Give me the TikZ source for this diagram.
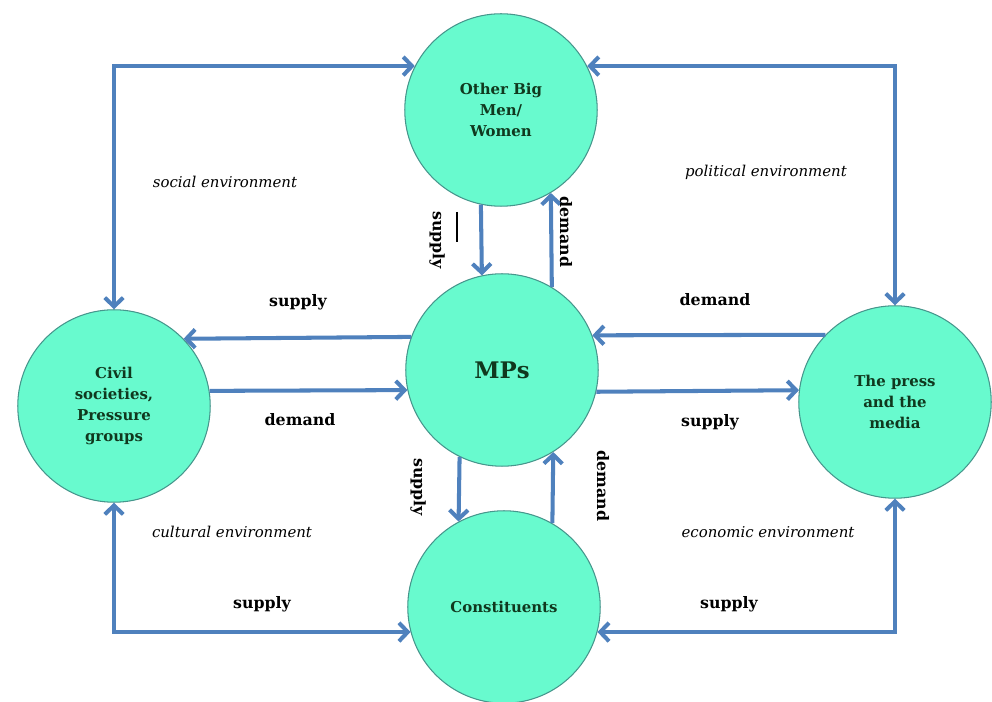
\documentclass[tikz,border=0pt]{standalone}
\usepackage{fontspec}
\setmainfont{DejaVu Serif}
\usetikzlibrary{arrows.meta}

\definecolor{actorfill}{RGB}{104,250,206}
\definecolor{actorline}{RGB}{70,150,140}
\definecolor{actortext}{RGB}{16,56,30}
\definecolor{flow}{RGB}{79,129,189}

\begin{document}
\begin{tikzpicture}[x=0.02cm,y=-0.02cm,
    actor/.style={circle,draw=actorline,line width=0.6pt,fill=actorfill,
      minimum size=3.85cm,inner sep=0pt,align=center,text=actortext,
      font=\bfseries\fontsize{8.5}{12}\selectfont},
    link/.style={draw=flow,line width=2.3pt,
      -{Straight Barb[length=5pt,width=10.5pt]}},
    both/.style={link,{Straight Barb[length=5pt,width=10.5pt]}-{Straight Barb[length=5pt,width=10.5pt]}},
    flowlabel/.style={font=\bfseries\fontsize{9}{10.5}\selectfont},
    envlabel/.style={font=\itshape\fontsize{8.5}{10}\selectfont}]
  \useasboundingbox (0,0) rectangle (992,702);

  % actors
  \node[actor] (big)   at (501,110) {Other Big\\Men/\\Women};
  \node[actor] (mps)   at (502,370) {\fontsize{13}{15}\selectfont MPs};
  \node[actor] (civil) at (114,406) {Civil\\societies,\\Pressure\\groups};
  \node[actor] (press) at (895,402) {The press\\and the\\media};
  \node[actor] (const) at (504,607) {Constituents};

  % outer loops
  \draw[both] (civil.north) |- (big.153);
  \draw[both] (big.27) -| (press.north);
  \draw[both] (civil.south) |- (const.195);
  \draw[both] (press.south) |- (const.345);

  % horizontal flows
  \draw[link] (mps.160) -- (civil.44);
  \draw[link] (civil.9) -- (mps.192);
  \draw[link] (press.136) -- (mps.21);
  \draw[link] (mps.-13) -- (press.173);

  % vertical flows
  \draw[link] (big.258) -- (mps.102);
  \draw[link] (mps.59) -- (big.301);
  \draw[link] (mps.244) -- (const.118);
  \draw[link] (const.60) -- (mps.302);

  % flow labels
  \node[flowlabel] (s1) at (298,302) {supply};
  \node[flowlabel] (d1) at (300,420) {demand};
  \node[flowlabel] (d2) at (715,300) {demand};
  \node[flowlabel] (s2) at (710,422) {supply};
  \node[flowlabel] (s3) at (262,604) {supply};
  \node[flowlabel] (s4) at (729,604) {supply};
  \node[flowlabel,rotate=-90] (s5) at (437,240) {supply};
  \node[flowlabel,rotate=-90] (d3) at (566,232) {demand};
  \node[flowlabel,rotate=-90] (s6) at (418,487) {supply};
  \node[flowlabel,rotate=-90] (d4) at (603,486) {demand};
  \draw[line width=1.1pt] (457,212) -- (457,242);

  % environments
  \node[envlabel] (soc) at (225,182) {social environment};
  \node[envlabel] (pol) at (766,172) {political environment};
  \node[envlabel] (cul) at (232,532) {cultural environment};
  \node[envlabel] (eco) at (768,532) {economic environment};
\end{tikzpicture}
\end{document}
